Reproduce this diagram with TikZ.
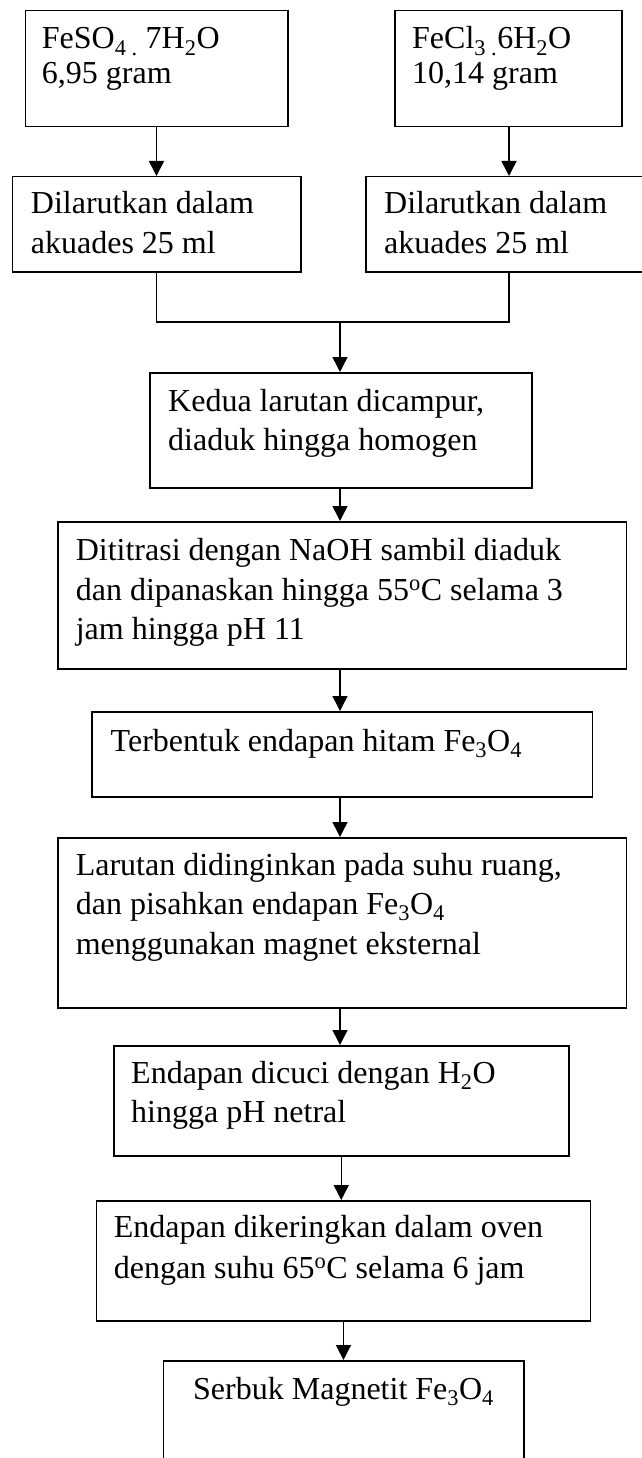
\documentclass[tikz,border=0pt]{standalone}
\usepackage{fontspec}
\setmainfont{Liberation Serif}
\usetikzlibrary{arrows.meta}
\tikzset{
  box/.style={draw, line width=1.5pt, inner sep=0pt, anchor=north west},
  arr/.style={line width=1.5pt, -{Triangle[width=15pt,length=15pt]}},
  link/.style={line width=1.5pt},
  txt/.style={inner sep=0pt, anchor=base west, font=\fontsize{32}{39.5}\selectfont},
  txtb/.style={inner sep=0pt, anchor=base west, font=\fontsize{32}{34.5}\selectfont}
}
\newcommand{\lines}[1]{\begin{tabular}[t]{@{}l@{}}#1\end{tabular}}
\begin{document}
\begin{tikzpicture}[x=1pt,y=-1pt]
\useasboundingbox (0,0) rectangle (641,1458);
% boxes
\node[box, minimum width=262.5pt, minimum height=116pt] (b1) at (24.5,10) {};
\node[box, minimum width=227pt, minimum height=116pt] (b2) at (394,10) {};
\node[box, minimum width=288.5pt, minimum height=95pt] (b3) at (11.5,176) {};
\node[box, minimum width=280pt, minimum height=95pt] (b4) at (365,176) {};
\node[box, minimum width=382pt, minimum height=115pt] (b5) at (149,372) {};
\node[box, minimum width=568.5pt, minimum height=147pt] (b6) at (57,521) {};
\node[box, minimum width=500.5pt, minimum height=85pt] (b7) at (91,711) {};
\node[box, minimum width=568.5pt, minimum height=170pt] (b8) at (57,837) {};
\node[box, minimum width=455pt, minimum height=110pt] (b9) at (113,1045) {};
\node[box, minimum width=494pt, minimum height=120pt] (b10) at (95.7,1200) {};
\node[box, minimum width=360.5pt, minimum height=115pt] (b11) at (162.7,1360) {};
% texts
\node[txtb] (t1) at (41.7,49) {\lines{FeSO\textsubscript{4 .} 7H\textsubscript{2}O\\6,95 gram}};
\node[txtb] (t2) at (412,49) {\lines{FeCl\textsubscript{3 .}6H\textsubscript{2}O\\10,14 gram}};
\node[txt] (t3) at (30.7,214) {\lines{Dilarutkan dalam\\akuades 25 ml}};
\node[txt] (t4) at (384,214) {\lines{Dilarutkan dalam\\akuades 25 ml}};
\node[txt] (t5) at (168,411) {\lines{Kedua larutan dicampur,\\diaduk hingga homogen}};
\node[txt] (t6) at (75.6,560.5) {\lines{Dititrasi dengan NaOH sambil diaduk\\dan dipanaskan hingga 55\textsuperscript{o}C selama 3\\jam hingga pH 11}};
\node[txt] (t7) at (110.5,751) {Terbentuk endapan hitam Fe\textsubscript{3}O\textsubscript{4}};
\node[txt] (t8) at (75.6,875) {\lines{Larutan didinginkan pada suhu ruang,\\dan pisahkan endapan Fe\textsubscript{3}O\textsubscript{4}\\menggunakan magnet eksternal}};
\node[txt] (t9) at (131,1083) {\lines{Endapan dicuci dengan H\textsubscript{2}O\\hingga pH netral}};
\node[txt, font=\fontsize{32}{41}\selectfont] (t10) at (113.6,1237) {\lines{Endapan dikeringkan dalam oven\\dengan suhu 65\textsuperscript{o}C selama 6 jam}};
\node[txt] (t11) at (193,1399) {Serbuk Magnetit Fe\textsubscript{3}O\textsubscript{4}};
% connectors
\coordinate (m) at (340,322);
\coordinate (r) at (509,322);
\draw[arr] (b1.south) -- (b1.south |- b3.north);
\draw[arr] (b2.south -| r) -- (r |- b4.north);
\draw[link] (b3.south) |- (m) -- (r) -- (r |- b4.south);
\draw[arr] (m) -- (m |- b5.north);
\draw[arr] (b5.south -| m) -- (m |- b6.north);
\draw[arr] (b6.south -| m) -- (m |- b7.north);
\draw[arr] (b7.south -| m) -- (m |- b8.north);
\draw[arr] (b8.south -| m) -- (m |- b9.north);
\draw[arr] (b9.south) -- (b9.south |- b10.north);
\draw[arr] (b10.south) -- (b10.south |- b11.north);
\end{tikzpicture}
\end{document}
